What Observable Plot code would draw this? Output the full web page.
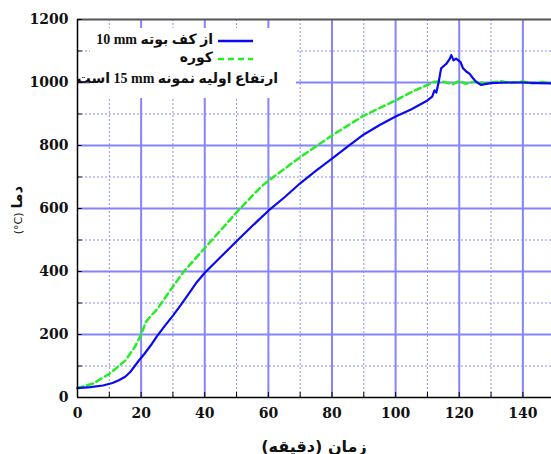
<!DOCTYPE html>
<html><head><meta charset="utf-8">
<script src="https://cdn.jsdelivr.net/npm/d3@7"></script>
<script src="https://cdn.jsdelivr.net/npm/@observablehq/plot@0.6"></script>
<style>
body{margin:0;background:#fff;}
#wrap{position:relative;width:551px;height:454px;overflow:hidden;background:#fff;}
.lbox{position:absolute;left:90px;top:28px;width:206px;height:70px;background:#fff;}
.ltxt{position:absolute;direction:rtl;white-space:nowrap;font-family:"Liberation Serif","DejaVu Sans",sans-serif;font-weight:bold;font-size:14px;color:#111;line-height:16px;}
.ylab{position:absolute;left:17px;top:210px;transform:translate(-50%,-50%) rotate(-90deg);white-space:nowrap;direction:rtl;color:#111;}
.xlab{position:absolute;left:314px;top:446px;transform:translate(-50%,-50%);white-space:nowrap;direction:rtl;font-family:"DejaVu Sans",sans-serif;font-weight:bold;font-size:16px;color:#111;}
svg text{font-family:"DejaVu Serif",serif;}
</style></head><body><div id="wrap"></div>
<script>
// ---- data ----
const blueTime = [0,4,8,11,13,15,16.5,18,19.5,21,23,25,27.5,30,32.5,35,37.5,40,45,50,55,60,65,70,75,80,85,90,95,100,105,110,111.5,112.2,112.8,113.5,114.3,115.3,116,117,117.5,118.2,119,120.4,121.2,122.2,123.2,124.2,125.3,126.9,128,130,135,140,145,149];
const blueTemp = [30,33,38,46,55,66,80,100,120,138,165,195,228,260,294,330,366,396,446,496,545,593,635,680,720,758,797,835,865,892,915,943,955,975,968,1000,1045,1054,1060,1075,1087,1070,1076,1065,1045,1035,1028,1015,1002,992,995,998,1000,1000,998,997];
const greenTime = [0,5,10,15,18,20,21.5,23,25,30,33.4,40,50,57.6,60,70,80,90,100,105,110,112,115,118,120,122,125,128,130,133,136,140,143,146,149];
const greenTemp = [30,45,75,117,160,200,240,258,280,352,400,474,588,668,688,763,832,895,943,970,992,1002,1002,995,1005,996,1003,998,1000,1004,998,1003,997,1002,998];
const xMajor = [0,20,40,60,80,100,120,140];
const xMinor = [10,30,50,70,90,110,130];
const yMajor = [0,200,400,600,800,1000,1200];
const yMinor = [100,300,500,700,900,1100];
const seriesNames = ["از کف بوته \u206610 mm\u2069","کوره"];
const seriesColors = ["#0a0af0","#22ee22"];
const noteText = "ارتفاع اولیه نمونه \u206615 mm\u2069 است";
const xTitle = "زمان (دقیقه)";
const yTitle = "دما";
const yUnit = "(°C)";

const blue = blueTime.map((t,i)=>({t, v: blueTemp[i]}));
const green = greenTime.map((t,i)=>({t, v: greenTemp[i]}));
const xAll = xMajor.concat(xMinor);
const yAll = yMajor.concat(yMinor);

const gridMajor = "#8484ff";
const gridMinor = "#8c8cff";
const tickFont = {fontFamily: "DejaVu Serif", fontWeight: "bold", fontSize: 14, fill: "#111"};

const chart = Plot.plot({
  width: 551, height: 454,
  marginLeft: 77, marginRight: 0, marginTop: 19, marginBottom: 57,
  x: {domain: [0,149]},
  y: {domain: [0,1200]},
  style: {background: "transparent", fontFamily: "DejaVu Serif", fontWeight: "bold", fontSize: "14px", color: "#111"},
  marks: [
    Plot.ruleX(xMinor, {x: d=>d, stroke: gridMinor, strokeWidth: 1, strokeDasharray: "2,2"}),
    Plot.ruleY(yMinor, {y: d=>d, stroke: gridMinor, strokeWidth: 1, strokeDasharray: "2,2"}),
    Plot.ruleX(xMajor.filter(v=>v>0), {x: d=>d, stroke: gridMajor, strokeWidth: 2}),
    Plot.ruleY(yMajor.filter(v=>v>0 && v<1200), {y: d=>d, stroke: gridMajor, strokeWidth: 2}),
    Plot.ruleY([1200], {y: d=>d, stroke: "#555", strokeWidth: 2}),
    Plot.ruleX(xAll, {x: d=>d, y1: ()=>0, y2: ()=>16, stroke: "#000", strokeWidth: 1}),
    Plot.ruleY(yAll, {y: d=>d, x1: ()=>0, x2: ()=>1.5, stroke: "#000", strokeWidth: 1}),
    Plot.line(green, {x: "t", y: "v", stroke: seriesColors[1], strokeWidth: 2.5, strokeDasharray: "6,4"}),
    Plot.line(blue, {x: "t", y: "v", stroke: seriesColors[0], strokeWidth: 2.2}),
    Plot.ruleX([0], {x: d=>d, stroke: "#000", strokeWidth: 1.5}),
    Plot.ruleY([0], {y: d=>d, stroke: "#000", strokeWidth: 1.5}),
    Plot.axisX(xMajor, {tickSize: 0, tickPadding: 11, label: null, tickFormat: d => String(d), ...tickFont}),
    Plot.axisY(yMajor, {tickSize: 0, tickPadding: 9, label: null, tickFormat: d => String(d), ...tickFont})
  ]
});
const wrap = document.getElementById("wrap");
wrap.appendChild(chart);
chart.style.position = "absolute"; chart.style.left = "0"; chart.style.top = "0";

// legend
const box = document.createElement("div"); box.className = "lbox"; wrap.appendChild(box);
const rowsY = [41, 59];
seriesNames.forEach((name, i) => {
  const t = document.createElement("div"); t.className = "ltxt";
  t.textContent = name; t.style.right = (551-213)+"px"; t.style.top = (rowsY[i]-9)+"px";
  wrap.appendChild(t);
  const s = document.createElementNS("http://www.w3.org/2000/svg","svg");
  s.setAttribute("width","36"); s.setAttribute("height","6");
  s.style.position = "absolute"; s.style.left = "218px"; s.style.top = (rowsY[i]-3)+"px";
  const l = document.createElementNS("http://www.w3.org/2000/svg","line");
  l.setAttribute("x1","0"); l.setAttribute("x2","35"); l.setAttribute("y1","3"); l.setAttribute("y2","3");
  l.setAttribute("stroke", seriesColors[i]); l.setAttribute("stroke-width", "2.5");
  if (i===1) l.setAttribute("stroke-dasharray","6,4");
  s.appendChild(l); wrap.appendChild(s);
});
const note = document.createElement("div"); note.className = "ltxt";
note.textContent = noteText; note.style.right = (551-278)+"px"; note.style.top = (80-9)+"px";
wrap.appendChild(note);

// axis titles
const yl = document.createElement("div"); yl.className = "ylab";
yl.innerHTML = '<span style="font-family:\'DejaVu Sans\';font-weight:bold;font-size:15px">'+yTitle+'</span> <span style="font-family:\'DejaVu Sans\';font-size:11px;direction:ltr;unicode-bidi:isolate">'+yUnit+'</span>';
wrap.appendChild(yl);
const xl = document.createElement("div"); xl.className = "xlab"; xl.textContent = xTitle;
wrap.appendChild(xl);
</script>
</body></html>
